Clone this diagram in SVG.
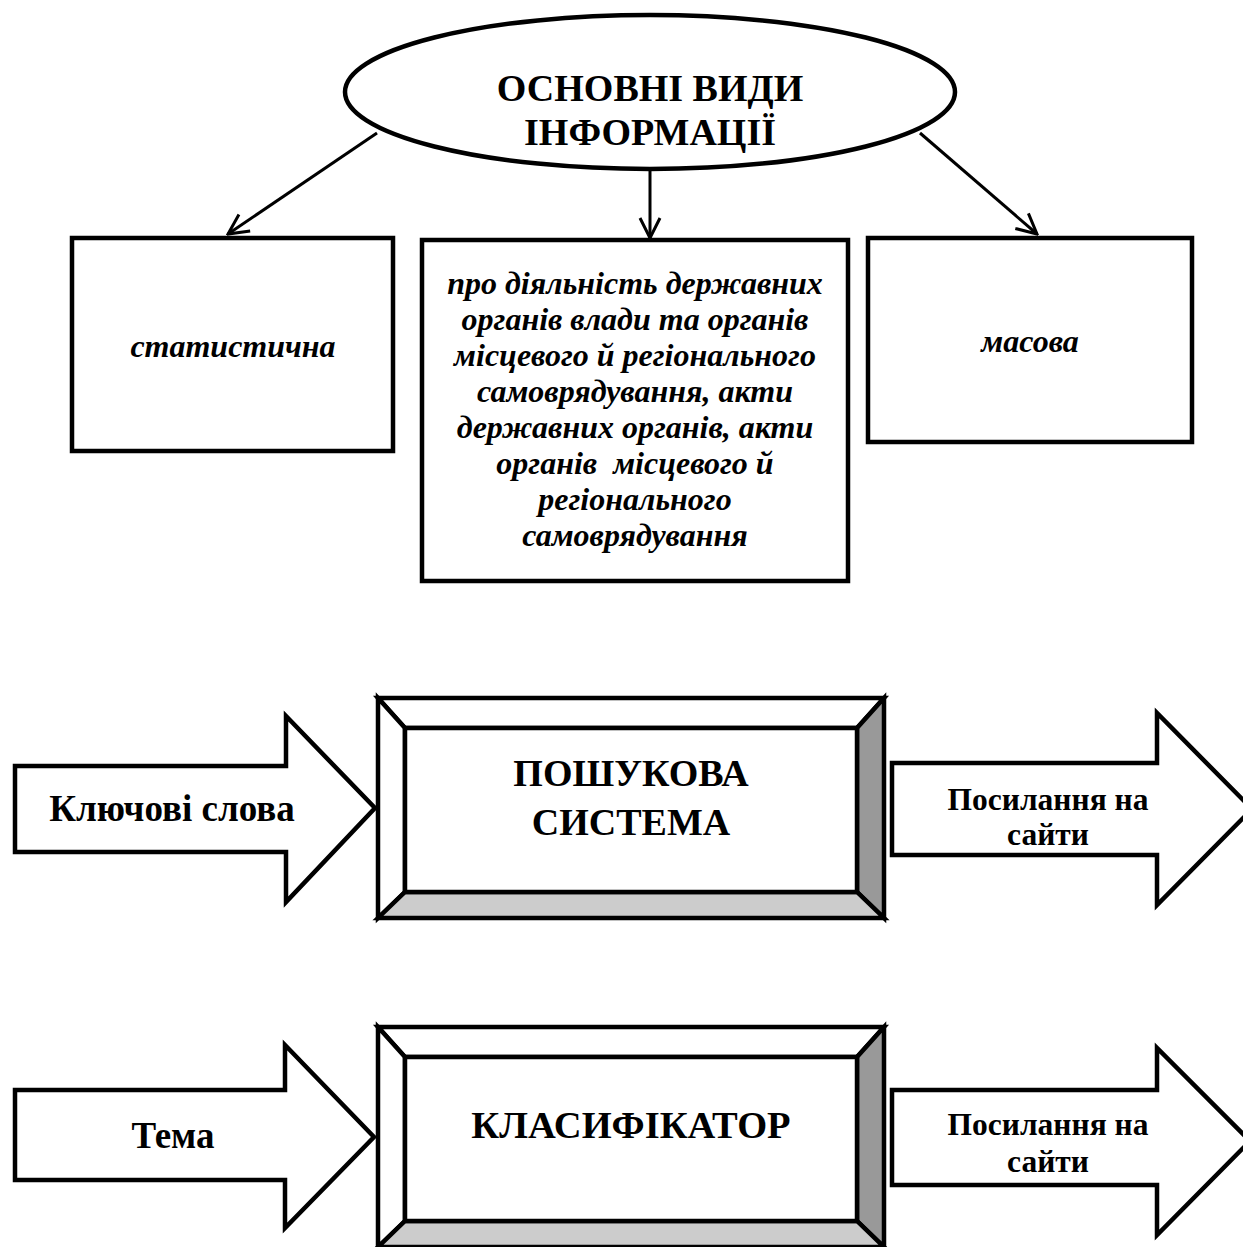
<svg xmlns="http://www.w3.org/2000/svg" width="1243" height="1247" viewBox="0 0 1243 1247">
  <style>
    .t { font-family: "Liberation Serif", "Times New Roman", serif; fill: #000; text-anchor: middle; }
    .b { font-weight: bold; }
    .bi { font-weight: bold; font-style: italic; }
    .box { fill: #fff; stroke: #000; stroke-width: 4.5; }
    .edge { fill: none; stroke: #000; stroke-width: 3; }
    .blk { fill: #fff; stroke: #000; stroke-width: 4.5; stroke-linejoin: miter; }
    .bev { stroke: #000; stroke-width: 4.5; stroke-linejoin: miter; }
  </style>
  <defs>
    <marker id="open" viewBox="0 0 24 24" refX="22" refY="12" markerWidth="24" markerHeight="24" markerUnits="userSpaceOnUse" orient="auto">
      <path d="M2,2 L22,12 L2,22" fill="none" stroke="#000" stroke-width="3"/>
    </marker>
    <!-- bevelled frame, reused for both processor blocks -->
    <g id="bevel">
      <polygon class="bev" fill="#fff" points="378,698 884,698 857,728 405,728"/>
      <polygon class="bev" fill="#fff" points="378,698 405,728 405,892 378,918"/>
      <polygon class="bev" fill="#999" points="884,698 884,918 857,892 857,728"/>
      <polygon class="bev" fill="#ccc" points="378,918 405,892 857,892 884,918"/>
      <rect class="bev" fill="#fff" x="405" y="728" width="452" height="164"/>
    </g>
  </defs>
  <rect width="1243" height="1247" fill="#fff"/>

  <!-- connectors from the root ellipse -->
  <g id="connectors">
    <line class="edge" x1="377" y1="133" x2="228" y2="234" marker-end="url(#open)"/>
    <line class="edge" x1="650" y1="169" x2="650" y2="238" marker-end="url(#open)"/>
    <line class="edge" x1="920" y1="133" x2="1037" y2="234" marker-end="url(#open)"/>
  </g>

  <g id="root">
    <ellipse cx="650" cy="92" rx="305" ry="77" fill="#fff" stroke="#000" stroke-width="4.5"/>
    <text class="t b" x="650" y="101" font-size="38">ОСНОВНІ ВИДИ</text>
    <text class="t b" x="650" y="145" font-size="38">ІНФОРМАЦІЇ</text>
  </g>

  <g id="statistical">
    <rect class="box" x="72" y="238" width="321" height="213"/>
    <text class="t bi" x="233" y="357" font-size="32">статистична</text>
  </g>

  <g id="government">
    <rect class="box" x="422" y="240" width="426" height="341"/>
    <g class="t bi" font-size="32">
      <text x="635" y="294">про діяльність державних</text>
      <text x="635" y="330">органів влади та органів</text>
      <text x="635" y="366">місцевого й регіонального</text>
      <text x="635" y="402">самоврядування, акти</text>
      <text x="635" y="438">державних органів, акти</text>
      <text x="635" y="474" xml:space="preserve">органів  місцевого й</text>
      <text x="635" y="510">регіонального</text>
      <text x="635" y="546">самоврядування</text>
    </g>
  </g>

  <g id="mass">
    <rect class="box" x="868" y="238" width="324" height="204"/>
    <text class="t bi" x="1030" y="352" font-size="32">масова</text>
  </g>

  <!-- search engine row -->
  <g id="keywords">
    <polygon class="blk" points="15,766 286,766 286,716 375,808 286,902 286,852 15,852"/>
    <text class="t b" x="172" y="821" font-size="37">Ключові слова</text>
  </g>
  <g id="search-engine">
    <use href="#bevel"/>
    <text class="t b" x="631" y="786" font-size="38">ПОШУКОВА</text>
    <text class="t b" x="631" y="835" font-size="38">СИСТЕМА</text>
  </g>
  <g id="links-1">
    <polygon class="blk" points="892,763 1157,763 1157,713 1252,809 1157,905 1157,855 892,855"/>
    <text class="t b" x="1048" y="810" font-size="31.5">Посилання на</text>
    <text class="t b" x="1048" y="845" font-size="31.5">сайти</text>
  </g>

  <!-- classifier row -->
  <g id="topic">
    <polygon class="blk" points="15,1090 285,1090 285,1045 374,1137 285,1228 285,1180 15,1180"/>
    <text class="t b" x="173" y="1148" font-size="37">Тема</text>
  </g>
  <g id="classifier">
    <use href="#bevel" transform="translate(0,329)"/>
    <text class="t b" x="631" y="1138" font-size="38.5">КЛАСИФІКАТОР</text>
  </g>
  <g id="links-2">
    <polygon class="blk" points="892,1090 1157,1090 1157,1048 1250,1141 1157,1235 1157,1185 892,1185"/>
    <text class="t b" x="1048" y="1135" font-size="31.5">Посилання на</text>
    <text class="t b" x="1048" y="1172" font-size="31.5">сайти</text>
  </g>
</svg>
